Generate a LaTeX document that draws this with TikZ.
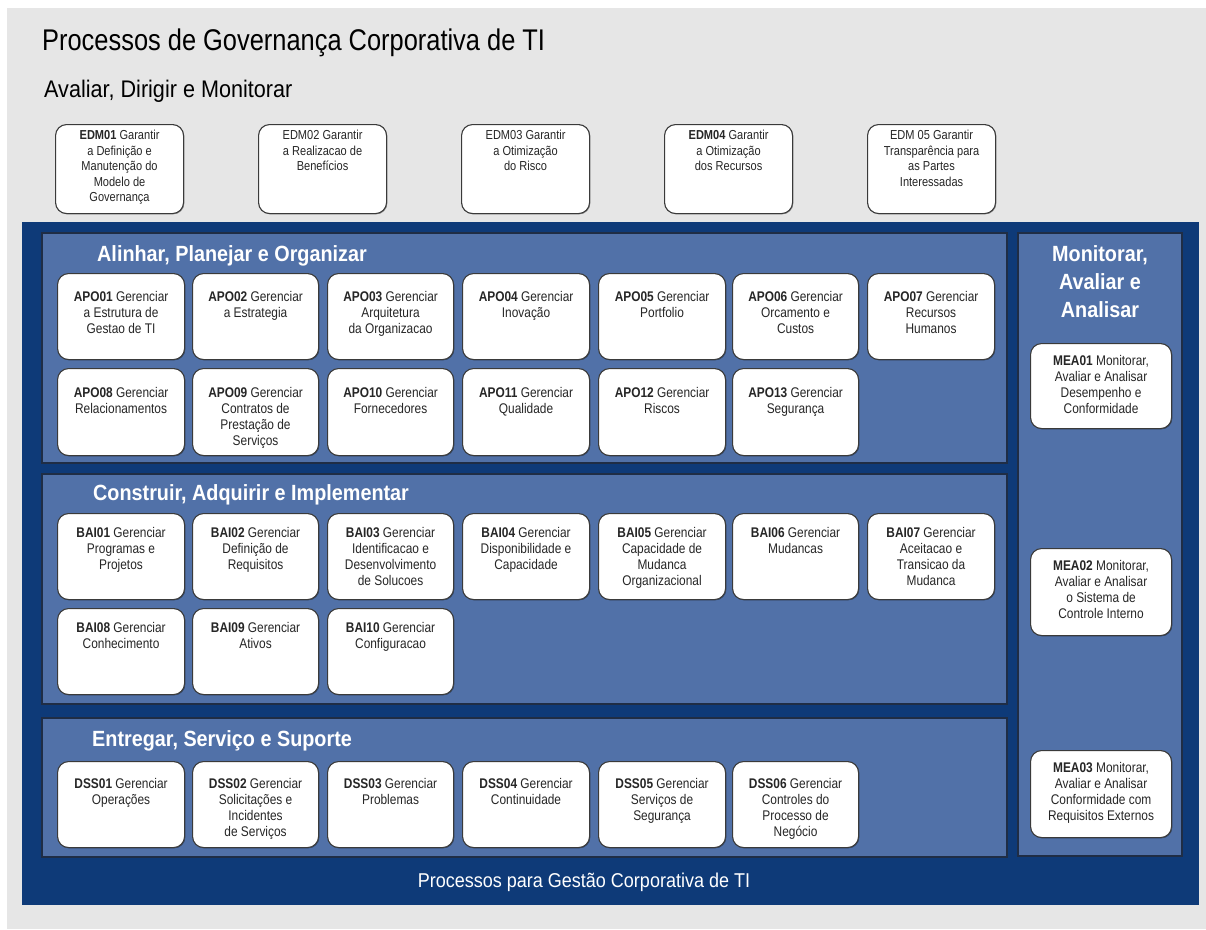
\documentclass[tikz,border=0pt]{standalone}
\usepackage{fontspec}
\setmainfont{Liberation Sans}
\newfontfamily\fA[FakeStretch=0.9]{Liberation Sans}
\newfontfamily\fB[FakeStretch=0.85]{Liberation Sans}
\newfontfamily\fT[FakeStretch=0.85]{Liberation Sans}
\usetikzlibrary{shadows}
\definecolor{bggray}{HTML}{E6E6E6}
\definecolor{navy}{HTML}{0E3A78}
\definecolor{panelblue}{HTML}{5171A8}
\definecolor{paneledge}{HTML}{1F2D45}
\definecolor{boxedge}{HTML}{3A3A3A}
\newcommand{\procbox}[8][ptxt]{%
  \node[pbox, minimum width=#5pt, minimum height=#6pt] (#2) at (#3,#4) {};
  \node[#1, anchor=north] (#2-t) at ([yshift=-#7pt]#2.north) {#8};}
\begin{document}
\begin{tikzpicture}[x=1pt,y=-1pt,
  pbox/.style={draw=boxedge, line width=1.1pt, fill=white, rounded corners=11pt,
    inner sep=0pt, anchor=north west,
    drop shadow={shadow xshift=0.8pt, shadow yshift=-0.8pt, opacity=0.35, fill=black}},
  ptxt/.style={font=\fB\fontsize{14}{16}\selectfont, align=center, inner sep=0pt, text=black!85},
  etxt/.style={ptxt, font=\fB\fontsize{13}{15.5}\selectfont},
  panel/.style={fill=panelblue, draw=paneledge, line width=1.2pt},
  ptitle/.style={font=\fA\bfseries\fontsize{22}{28}\selectfont, text=white, inner sep=0pt},
  heading/.style={text=black, inner sep=0pt, anchor=base west}
]
\useasboundingbox (0,0) rectangle (1206,929);
\fill[white] (0,0) rectangle (1206,929);
\fill[bggray] (7,8) rectangle (1206,929);
\fill[navy] (22,222) rectangle (1199,905);

% panels
\draw[panel] (42,233) rectangle (1007,463);
\draw[panel] (42,474) rectangle (1007,704);
\draw[panel] (42,718) rectangle (1007,857);
\draw[panel] (1018,233) rectangle (1182,856);

% headings
\node[heading, font=\fT\fontsize{29.9}{30}\selectfont] (title) at (42,50) {Processos de Governança Corporativa de TI};
\node[heading, font=\fA\fontsize{24}{24}\selectfont] (subtitle) at (44,97) {Avaliar, Dirigir e Monitorar};
\node[ptitle, anchor=base west] (apo) at (97,261) {Alinhar, Planejar e Organizar};
\node[ptitle, anchor=base west] (bai) at (93,500) {Construir, Adquirir e Implementar};
\node[ptitle, anchor=base west] (dss) at (92,746) {Entregar, Serviço e Suporte};
\node[ptitle, anchor=north, align=center] (mea) at (1100,245) {Monitorar,\\Avaliar e\\Analisar};
\node[font=\fA\fontsize{20}{20}\selectfont, text=white, inner sep=0pt, anchor=base] (gest) at (584,887) {Processos para Gestão Corporativa de TI};

% EDM
\procbox[etxt]{edm01}{55}{124}{128}{89}{6}{\textbf{EDM01} Garantir\\a Definição e\\Manutenção do\\Modelo de\\Governança}
\procbox[etxt]{edm02}{258}{124}{128}{89}{6}{EDM02 Garantir\\a Realizacao de\\Benefícios}
\procbox[etxt]{edm03}{461}{124}{128}{89}{6}{EDM03 Garantir\\a Otimização\\do Risco}
\procbox[etxt]{edm04}{664}{124}{128}{89}{6}{\textbf{EDM04} Garantir\\a Otimização\\dos Recursos}
\procbox[etxt]{edm05}{867}{124}{128}{89}{6}{EDM 05 Garantir\\Transparência para\\as Partes\\Interessadas}

% APO
\procbox{apo01}{57}{273}{127}{86}{18}{\textbf{APO01} Gerenciar\\a Estrutura de\\Gestao de TI}
\procbox{apo02}{192}{273}{126}{86}{18}{\textbf{APO02} Gerenciar\\a Estrategia}
\procbox{apo03}{327}{273}{126}{86}{18}{\textbf{APO03} Gerenciar\\Arquitetura\\da Organizacao}
\procbox{apo04}{462}{273}{127}{86}{18}{\textbf{APO04} Gerenciar\\Inovação}
\procbox{apo05}{598}{273}{127}{86}{18}{\textbf{APO05} Gerenciar\\Portfolio}
\procbox{apo06}{732}{273}{126}{86}{18}{\textbf{APO06} Gerenciar\\Orcamento e\\Custos}
\procbox{apo07}{867}{273}{127}{86}{18}{\textbf{APO07} Gerenciar\\Recursos\\Humanos}
\procbox{apo08}{57}{368}{127}{87}{19}{\textbf{APO08} Gerenciar\\Relacionamentos}
\procbox{apo09}{192}{368}{126}{87}{19}{\textbf{APO09} Gerenciar\\Contratos de\\Prestação de\\Serviços}
\procbox{apo10}{327}{368}{126}{87}{19}{\textbf{APO10} Gerenciar\\Fornecedores}
\procbox{apo11}{462}{368}{127}{87}{19}{\textbf{APO11} Gerenciar\\Qualidade}
\procbox{apo12}{598}{368}{127}{87}{19}{\textbf{APO12} Gerenciar\\Riscos}
\procbox{apo13}{732}{368}{126}{87}{19}{\textbf{APO13} Gerenciar\\Segurança}

% BAI
\procbox{bai01}{57}{513}{127}{86}{14}{\textbf{BAI01} Gerenciar\\Programas e\\Projetos}
\procbox{bai02}{192}{513}{126}{86}{14}{\textbf{BAI02} Gerenciar\\Definição de\\Requisitos}
\procbox{bai03}{327}{513}{126}{86}{14}{\textbf{BAI03} Gerenciar\\Identificacao e\\Desenvolvimento\\de Solucoes}
\procbox{bai04}{462}{513}{127}{86}{14}{\textbf{BAI04} Gerenciar\\Disponibilidade e\\Capacidade}
\procbox{bai05}{598}{513}{127}{86}{14}{\textbf{BAI05} Gerenciar\\Capacidade de\\Mudanca\\Organizacional}
\procbox{bai06}{732}{513}{126}{86}{14}{\textbf{BAI06} Gerenciar\\Mudancas}
\procbox{bai07}{867}{513}{127}{86}{14}{\textbf{BAI07} Gerenciar\\Aceitacao e\\Transicao da\\Mudanca}
\procbox{bai08}{57}{608}{127}{86}{14}{\textbf{BAI08} Gerenciar\\Conhecimento}
\procbox{bai09}{192}{608}{126}{86}{14}{\textbf{BAI09} Gerenciar\\Ativos}
\procbox{bai10}{327}{608}{126}{86}{14}{\textbf{BAI10} Gerenciar\\Configuracao}

% DSS
\procbox{dss01}{57}{761}{127}{86}{17}{\textbf{DSS01} Gerenciar\\Operações}
\procbox{dss02}{192}{761}{126}{86}{17}{\textbf{DSS02} Gerenciar\\Solicitações e\\Incidentes\\de Serviços}
\procbox{dss03}{327}{761}{126}{86}{17}{\textbf{DSS03} Gerenciar\\Problemas}
\procbox{dss04}{462}{761}{127}{86}{17}{\textbf{DSS04} Gerenciar\\Continuidade}
\procbox{dss05}{598}{761}{127}{86}{17}{\textbf{DSS05} Gerenciar\\Serviços de\\Segurança}
\procbox{dss06}{732}{761}{126}{86}{17}{\textbf{DSS06} Gerenciar\\Controles do\\Processo de\\Negócio}

% MEA
\procbox{mea01}{1030}{343}{141}{85}{12}{\textbf{MEA01} Monitorar,\\Avaliar e Analisar\\Desempenho e\\Conformidade}
\procbox{mea02}{1030}{548}{141}{87}{12}{\textbf{MEA02} Monitorar,\\Avaliar e Analisar\\o Sistema de\\Controle Interno}
\procbox{mea03}{1030}{750}{141}{87}{12}{\textbf{MEA03} Monitorar,\\Avaliar e Analisar\\Conformidade com\\Requisitos Externos}
\end{tikzpicture}
\end{document}
